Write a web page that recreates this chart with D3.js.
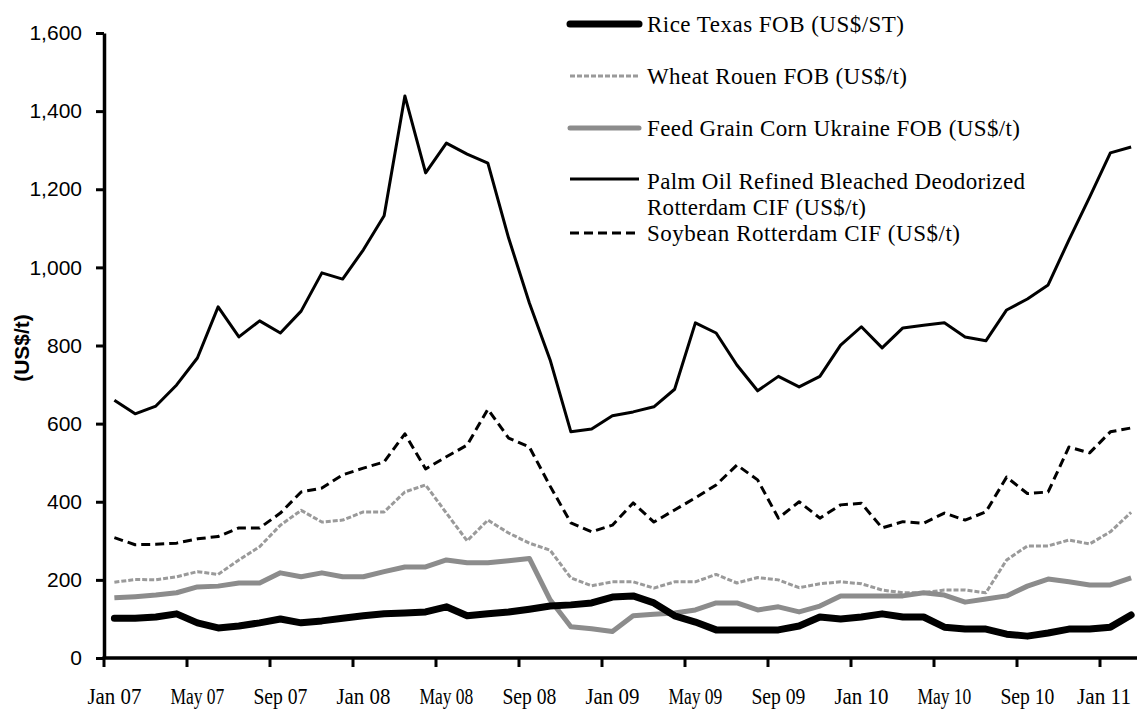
<!DOCTYPE html>
<html>
<head>
<meta charset="utf-8">
<script src="https://cdn.jsdelivr.net/npm/d3@7"></script>
<style>
  html, body { margin: 0; padding: 0; background: #fff; }
  svg { display: block; }
</style>
</head>
<body>
<svg id="chart" width="1137" height="709"></svg>
<script>
const months = [
  "Jan 07","Feb 07","Mar 07","Apr 07","May 07","Jun 07","Jul 07","Aug 07","Sep 07","Oct 07","Nov 07","Dec 07",
  "Jan 08","Feb 08","Mar 08","Apr 08","May 08","Jun 08","Jul 08","Aug 08","Sep 08","Oct 08","Nov 08","Dec 08",
  "Jan 09","Feb 09","Mar 09","Apr 09","May 09","Jun 09","Jul 09","Aug 09","Sep 09","Oct 09","Nov 09","Dec 09",
  "Jan 10","Feb 10","Mar 10","Apr 10","May 10","Jun 10","Jul 10","Aug 10","Sep 10","Oct 10","Nov 10","Dec 10",
  "Jan 11","Feb 11"
];
const tickLabels = ["Jan 07","May 07","Sep 07","Jan 08","May 08","Sep 08","Jan 09","May 09","Sep 09","Jan 10","May 10","Sep 10","Jan 11"];
const yTicks = [0,200,400,600,800,1000,1200,1400,1600];

const rice = [102,102,105,113,90,77,82,90,100,90,95,102,
  108,113,115,118,131,108,113,118,125,133,136,141,
  156,159,141,108,92,72,72,72,72,82,105,100,
  105,113,105,105,79,74,74,61,56,64,74,74,
  79,110];
const wheat = [194,201,200,208,221,214,251,285,340,378,348,353,
  374,374,425,443,371,300,353,320,294,276,205,185,
  195,195,179,195,195,214,192,206,200,180,190,195,
  190,174,167,167,174,174,167,251,287,287,302,292,
  323,373];
const corn = [154,157,161,167,182,184,192,192,218,208,218,208,
  208,221,233,233,251,244,244,249,255,149,80,75,
  68,108,112,115,123,141,141,123,131,118,133,159,
  159,159,159,167,161,143,151,159,184,202,195,187,
  187,205];
const palm = [660,625,645,699,768,899,822,863,832,888,986,970,
  1045,1132,1439,1242,1318,1290,1267,1075,909,763,579,586,
  620,630,643,688,858,832,750,684,721,694,721,801,
  848,794,845,852,858,822,812,891,919,955,1070,1180,
  1293,1308];
const soy = [308,290,291,294,305,311,333,333,371,425,435,469,
  486,502,574,484,515,545,637,563,540,440,346,323,
  340,397,348,379,410,443,494,456,358,400,358,392,
  396,333,349,345,371,353,374,463,421,425,540,525,
  579,589];

const seriesNames = [
  ["Rice Texas FOB (US$/ST)"],
  ["Wheat Rouen FOB (US$/t)"],
  ["Feed Grain Corn Ukraine FOB (US$/t)"],
  ["Palm Oil Refined Bleached Deodorized", "Rotterdam CIF (US$/t)"],
  ["Soybean Rotterdam CIF (US$/t)"]
];
const yTitle = "(US$/t)";

const styles = [
  {color:"#000000", width:7, dash:null},
  {color:"#9a9a9a", width:3, dash:"5,2"},
  {color:"#8c8c8c", width:5, dash:null},
  {color:"#000000", width:3, dash:null},
  {color:"#000000", width:3, dash:"9,5"}
];
const seriesData = [rice, wheat, corn, palm, soy];

const W = 1137;
const svg = d3.select("#chart");
const left = 104, bandW = 20.75;
const x = d3.scaleBand().domain(months).range([left, left + months.length * bandW]).padding(0);
const y = d3.scaleLinear().domain([0, 1600]).range([658, 33]);
const cx = m => x(m) + x.bandwidth() / 2;

// Series lines (draw in reverse so rice sits on top)
const line = d3.line().x((d, i) => cx(months[i])).y(d => y(d));
[4,3,1,2,0].forEach(k => {
  svg.append("path")
    .datum(seriesData[k])
    .attr("d", line)
    .attr("fill", "none")
    .attr("stroke", styles[k].color)
    .attr("stroke-width", styles[k].width)
    .attr("stroke-dasharray", styles[k].dash)
    .attr("stroke-linejoin", "round")
    .attr("stroke-linecap", k === 0 ? "round" : "butt");
});

// Y axis
const yAxis = d3.axisLeft(y).tickValues(yTicks).tickFormat(d3.format(",")).tickSize(8).tickSizeOuter(0).tickPadding(14);
const gy = svg.append("g").attr("transform", `translate(${left},0)`).call(yAxis);
gy.select(".domain").attr("stroke-width", 3.5).attr("stroke", "#000");
gy.selectAll(".tick line").attr("stroke-width", 3).attr("stroke", "#000");
gy.selectAll(".tick text").attr("font-family", "Liberation Sans, Arial, sans-serif").attr("font-size", 21).attr("fill", "#000");

// X axis
svg.append("line").attr("x1", left - 1.5).attr("x2", x.range()[1]).attr("y1", y(0)).attr("y2", y(0))
  .attr("stroke", "#000").attr("stroke-width", 3.5);
svg.selectAll(".xtick").data(tickLabels).join("line")
  .attr("class", "xtick")
  .attr("x1", d => x(d)).attr("x2", d => x(d))
  .attr("y1", y(0)).attr("y2", y(0) + 9)
  .attr("stroke", "#000").attr("stroke-width", 3);
const labW = 54;
svg.selectAll(".xlab").data(tickLabels).join("text")
  .attr("class", "xlab")
  .attr("x", d => Math.min(cx(d), W - 4 - 29)).attr("y", 704)
  .attr("text-anchor", "middle")
  .attr("font-family", "Liberation Serif, Times New Roman, serif")
  .attr("font-size", 22.5)
  .attr("textLength", labW)
  .attr("lengthAdjust", "spacingAndGlyphs")
  .text(d => d);

// Y title
svg.append("text")
  .attr("transform", "translate(29,348) rotate(-90)")
  .attr("text-anchor", "middle")
  .attr("font-family", "Liberation Sans, Arial, sans-serif")
  .attr("font-weight", "bold")
  .attr("font-size", 21)
  .text(yTitle);

// Legend
const legLineY = [24, 76, 128, 179, 233];
const legTextY = [[32], [84], [136], [189, 215], [241]];
const legWidths = [[257], [260], [373], [378, 219], [313]];
seriesNames.forEach((names, k) => {
  svg.append("line")
    .attr("x1", 570).attr("x2", 639)
    .attr("y1", legLineY[k]).attr("y2", legLineY[k])
    .attr("stroke", styles[k].color)
    .attr("stroke-width", styles[k].width)
    .attr("stroke-dasharray", styles[k].dash)
    .attr("stroke-linecap", k === 0 || k === 2 ? "round" : "butt");
  names.forEach((t, j) => {
    svg.append("text")
      .attr("x", 647).attr("y", legTextY[k][j])
      .attr("font-family", "Liberation Serif, Times New Roman, serif")
      .attr("font-size", 23)
      .attr("textLength", legWidths[k][j])
      .attr("lengthAdjust", "spacing")
      .text(t);
  });
});
</script>
</body>
</html>
